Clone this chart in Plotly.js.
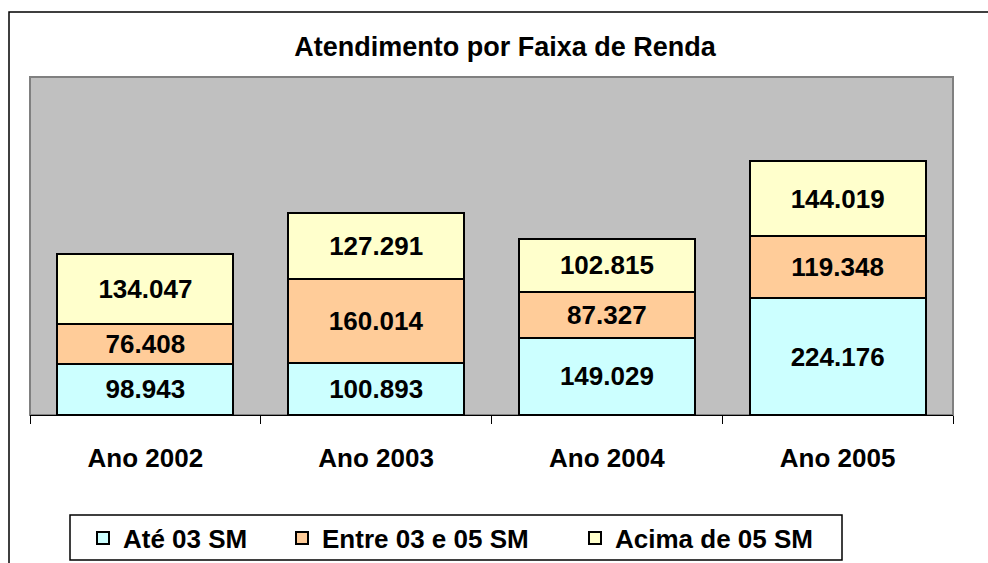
<!DOCTYPE html>
<html>
<head>
<meta charset="utf-8">
<script src="https://cdn.plot.ly/plotly-3.0.1.min.js"></script>
<style>
  html, body { margin: 0; padding: 0; background: #fff; }
  #chart { width: 988px; height: 563px; }
</style>
</head>
<body>
<div id="chart"></div>
<script>
const categories = ["Ano 2002", "Ano 2003", "Ano 2004", "Ano 2005"];
const seriesNames = ["Até 03 SM", "Entre 03 e 05 SM", "Acima de 05 SM"];
const ate03 = [98943, 100893, 149029, 224176];
const entre03e05 = [76408, 160014, 87327, 119348];
const acima05 = [134047, 127291, 102815, 144019];
const colors = ["#CCFFFF", "#FFCC99", "#FFFFCC"];

// plot-area geometry (pixels)
const W = 988, H = 563;
const PL = 30, PR = 953, PT = 77, PB = 415;
const px = x => (x - PL) / (PR - PL);
const py = y => (PB - y) / (PB - PT);

const FONT = "Liberation Sans, Arial, sans-serif";

const values = [ate03, entre03e05, acima05];
const legendIds = ["legend", "legend2", "legend3"];
const traces = values.map((v, i) => ({
  type: "bar",
  name: seriesNames[i],
  x: categories,
  y: v,
  legend: legendIds[i],
  marker: { color: colors[i], line: { color: "#000", width: 2 } },
  texttemplate: "%{y:,.0f}",
  textposition: "inside",
  insidetextanchor: "middle",
  textangle: 0,
  constraintext: "none",
  textfont: { family: FONT, size: 26, color: "#000", weight: "bold" },
  hoverinfo: "skip"
}));

const legendBase = {
  orientation: "h",
  xanchor: "left",
  yanchor: "middle",
  y: py(538),
  bgcolor: "rgba(0,0,0,0)",
  borderwidth: 0,
  font: { family: FONT, size: 26, color: "#000", weight: "bold" }
};

const layout = {
  width: W, height: H,
  margin: { l: PL, r: W - PR, t: PT, b: H - PB, pad: 0, autoexpand: false },
  paper_bgcolor: "#fff",
  plot_bgcolor: "#C0C0C0",
  separators: ",.",
  barmode: "stack",
  bargap: 0.237,
  showlegend: true,
  title: {
    text: "Atendimento por Faixa de Renda",
    font: { family: FONT, size: 27, color: "#000", weight: "bold" },
    xref: "paper", x: px(505), xanchor: "center",
    yref: "container", y: 1 - 47 / H, yanchor: "middle"
  },
  xaxis: {
    type: "category",
    showline: true, linecolor: "#000", linewidth: 1,
    ticks: "outside", tickson: "boundaries", ticklen: 8, tickcolor: "#000", tickwidth: 1,
    tickfont: { family: FONT, size: 26, color: "#000", weight: "bold" },
    ticklabelstandoff: 20,
    showgrid: false, zeroline: false, fixedrange: true
  },
  yaxis: {
    range: [0, 650000],
    visible: false, showgrid: false, zeroline: false, fixedrange: true
  },
  legend: Object.assign({}, legendBase, { x: px(83) }),
  legend2: Object.assign({}, legendBase, { x: px(282) }),
  legend3: Object.assign({}, legendBase, { x: px(575) }),
  shapes: [
    // outer chart border
    { type: "rect", xref: "paper", yref: "paper", layer: "below",
      x0: px(9), x1: px(1000), y0: py(580), y1: py(12),
      line: { color: "#000", width: 1.5 }, fillcolor: "rgba(0,0,0,0)" },
    // plot area border
    { type: "rect", xref: "paper", yref: "paper", layer: "below",
      x0: 0, x1: 1, y0: 0, y1: 1,
      line: { color: "#808080", width: 2 }, fillcolor: "rgba(0,0,0,0)" },
    // legend box
    { type: "rect", xref: "paper", yref: "paper", layer: "above",
      x0: px(70), x1: px(842), y0: py(560), y1: py(515),
      line: { color: "#000", width: 1.5 }, fillcolor: "rgba(0,0,0,0)" }
  ]
};

Plotly.newPlot("chart", traces, layout, { displayModeBar: false, staticPlot: true });
</script>
</body>
</html>
